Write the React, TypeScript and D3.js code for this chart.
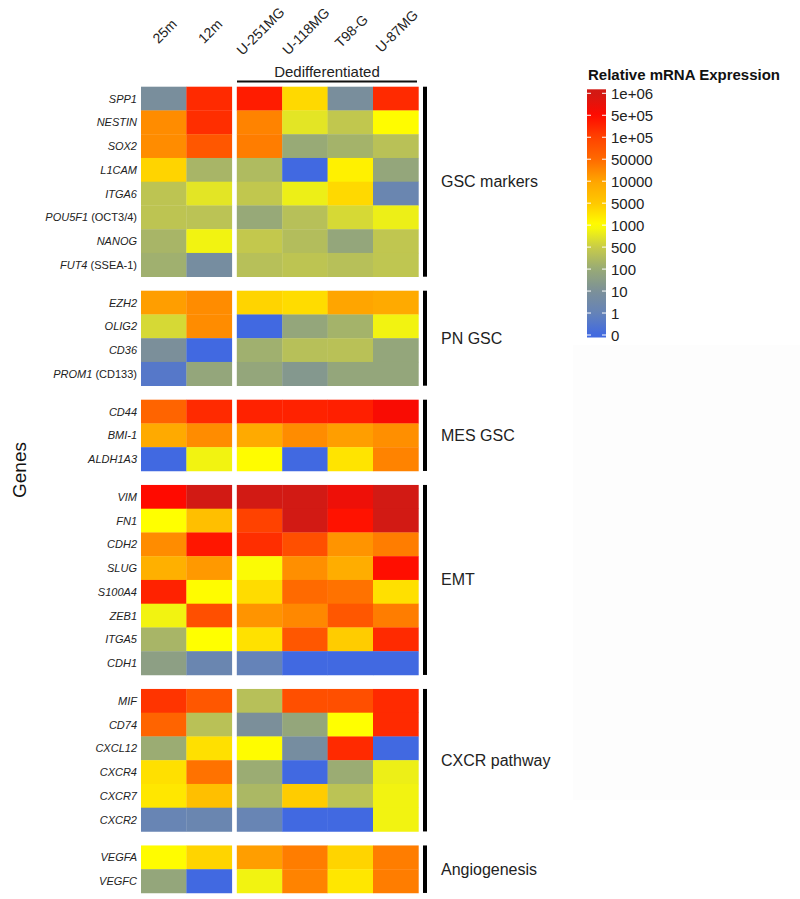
import React from 'react';
import * as d3 from 'd3';

const columns = ["25m", "12m", "U-251MG", "U-118MG", "T98-G", "U-87MG"];
const groupNames = ["GSC markers", "PN GSC", "MES GSC", "EMT", "CXCR pathway", "Angiogenesis"];
const groupSizes = [8, 4, 3, 8, 6, 2];
const genes = [
  "SPP1", "NESTIN", "SOX2", "L1CAM", "ITGA6", "POU5F1", "NANOG", "FUT4",
  "EZH2", "OLIG2", "CD36", "PROM1",
  "CD44", "BMI-1", "ALDH1A3",
  "VIM", "FN1", "CDH2", "SLUG", "S100A4", "ZEB1", "ITGA5", "CDH1",
  "MIF", "CD74", "CXCL12", "CXCR4", "CXCR7", "CXCR2",
  "VEGFA", "VEGFC",
];
const geneAliases = [
  "", "", "", "", "", "(OCT3/4)", "", "(SSEA-1)",
  "", "", "", "(CD133)",
  "", "", "",
  "", "", "", "", "", "", "", "",
  "", "", "", "", "", "",
  "", "",
];
// rows follow genes, columns follow columns
const expression = [
  [8, 2e5, 3e5, 3000, 8, 2e5],
  [2e4, 1.8e5, 2.5e4, 700, 400, 1100],
  [2e4, 7e4, 3e4, 100, 150, 300],
  [3500, 170, 220, 0, 1500, 70],
  [350, 700, 400, 800, 3000, 2],
  [350, 320, 90, 280, 600, 800],
  [170, 850, 420, 250, 70, 380],
  [130, 6, 280, 350, 280, 370],
  [1.2e4, 2e4, 3500, 2800, 1e4, 9000],
  [600, 2e4, 0, 70, 150, 850],
  [9, 0, 130, 280, 300, 70],
  [0.5, 70, 70, 20, 70, 70],
  [5.5e4, 2e5, 2.5e5, 2.5e5, 2.7e5, 5.5e5],
  [9000, 2e4, 9000, 2e4, 1.2e4, 1.8e4],
  [0, 850, 1100, 0, 2200, 2.5e4],
  [5e5, 1e6, 1e6, 1e6, 6.5e5, 1e6],
  [1000, 6000, 1e5, 1e6, 4e5, 1e6],
  [2e4, 3.5e5, 1.8e5, 8e4, 1.6e4, 3e4],
  [8000, 1.4e4, 950, 1.8e4, 8500, 4.5e5],
  [2.5e5, 1100, 2800, 5e4, 4e4, 2500],
  [850, 8e4, 1.6e4, 2.2e4, 7e4, 3e4],
  [170, 1000, 2400, 7e4, 4500, 2e5],
  [40, 2, 1, 0, 0, 0],
  [1.5e5, 7e4, 280, 8e4, 8e4, 2e5],
  [5.5e4, 300, 9, 70, 1000, 2e5],
  [110, 2500, 1100, 6, 2e5, 0],
  [2500, 4e4, 110, 0, 110, 800],
  [2000, 6000, 190, 4500, 320, 850],
  [1.5, 2, 1.5, 0, 0, 850],
  [1100, 3500, 1.2e4, 3e4, 3500, 3e4],
  [70, 0, 850, 2.5e4, 2000, 3e4],
];

const legendTickValues = [0, 1, 10, 100, 500, 1000, 5000, 10000, 50000, 1e5, 5e5, 1e6];
const legendTickLabels = ["0", "1", "10", "100", "500", "1000", "5000", "10000", "50000", "1e+05", "5e+05", "1e+06"];
const legendColors = [
  "#4169E1", "#6583B8", "#7C9098", "#98AA76", "#C8CC48", "#FFFF00",
  "#FFC800", "#FFA500", "#FF6A00", "#FF4200", "#FF0A00", "#D21A14",
];

const FONT = "'Liberation Sans', Arial, Helvetica, sans-serif";

export default function App() {
  const W = 800, H = 899;
  const rowH = 23.75, gap = 14, top0 = 86.7;

  const posScale = d3.scaleLinear()
    .domain(legendTickValues.map(v => Math.log10(v + 1)))
    .range(d3.range(legendTickValues.length))
    .clamp(true);
  const colorScale = d3.scaleLinear<string>()
    .domain(d3.range(legendColors.length))
    .range(legendColors)
    .interpolate(d3.interpolateRgb)
    .clamp(true);
  const cellColor = (v: number) => colorScale(posScale(Math.log10(v + 1)));

  const xBand = d3.scaleBand<string>().domain(columns).range([141, 141 + 6 * 45.4]).padding(0);
  const colX = (c: string, i: number) => (xBand(c) as number) + (i >= 2 ? 5 : 0);
  const cw = xBand.bandwidth();

  // row positions
  const rowTop: number[] = [];
  const groupTop: number[] = [];
  const groupBottom: number[] = [];
  let y = top0;
  groupSizes.forEach((n) => {
    groupTop.push(y);
    for (let k = 0; k < n; k++) { rowTop.push(y); y += rowH; }
    groupBottom.push(y);
    y += gap;
  });

  const legendY = d3.scaleLinear().domain([0, legendTickValues.length - 1]).range([335, 93.3]);
  const barTop = 89.3, barBot = 337.5, barX = 587, barW = 19;
  const gradStops = d3.range(0, 1.0001, 0.02).map(t => {
    const yy = barTop + t * (barBot - barTop);
    const p = legendY.invert(yy);
    return { offset: t, color: colorScale(p) };
  });

  return (
    <svg width={W} height={H} style={{ position: 'absolute', left: 0, top: 0, display: 'block', background: '#fff' }} fontFamily={FONT}>
      <defs>
        <linearGradient id="lg" x1="0" y1={barTop} x2="0" y2={barBot} gradientUnits="userSpaceOnUse">
          {gradStops.map((s, i) => <stop key={i} offset={s.offset} stopColor={s.color} />)}
        </linearGradient>
      </defs>
      <rect x={0} y={0} width={W} height={H} fill="#fff" />
      <rect x={573} y={345} width={227} height={455} fill="#fdfdfd" />

      {/* column labels */}
      {columns.map((c, i) => (
        <text key={c} transform={`translate(${colX(c, i) + cw / 2 + 1},${31}) rotate(-45)`}
          textAnchor="middle" dominantBaseline="central" fontSize={14} fill="#222">{c}</text>
      ))}

      {/* Dedifferentiated */}
      <text x={327} y={77} textAnchor="middle" fontSize={15} fill="#222">Dedifferentiated</text>
      <line x1={237} x2={417} y1={81.5} y2={81.5} stroke="#111" strokeWidth={2} />

      {/* cells */}
      {expression.map((row, r) => row.map((v, i) => (
        <rect key={`${r}-${i}`} x={colX(columns[i], i)} y={rowTop[r]} width={cw + 0.3} height={rowH + 0.3} fill={cellColor(v)} />
      )))}

      {/* gene labels */}
      {genes.map((g, r) => (
        <text key={g} x={137} y={rowTop[r] + rowH / 2} textAnchor="end" dominantBaseline="central" fontSize={11} fill="#222">
          <tspan fontStyle="italic">{g}</tspan>
          {geneAliases[r] ? <tspan>{" " + geneAliases[r]}</tspan> : null}
        </text>
      ))}

      {/* group bars and labels */}
      {groupNames.map((n, k) => (
        <g key={n}>
          <rect x={423} y={groupTop[k]} width={4} height={groupBottom[k] - groupTop[k]} fill="#000" />
          <text x={441} y={(groupTop[k] + groupBottom[k]) / 2} dominantBaseline="central" fontSize={16} fill="#222">{n}</text>
        </g>
      ))}

      {/* Genes axis title */}
      <text transform="translate(26,470) rotate(-90)" textAnchor="middle" fontSize={19} fill="#111">Genes</text>

      {/* legend */}
      <text x={588} y={80} fontSize={15} fontWeight="bold" fill="#111">Relative mRNA Expression</text>
      <rect x={barX} y={barTop} width={barW} height={barBot - barTop} fill="url(#lg)" />
      {legendTickValues.map((v, i) => (
        <g key={v}>
          <line x1={barX} x2={barX + 4} y1={legendY(i)} y2={legendY(i)} stroke="#fff" strokeWidth={1} />
          <line x1={barX + barW - 4} x2={barX + barW} y1={legendY(i)} y2={legendY(i)} stroke="#fff" strokeWidth={1} />
          <text x={611} y={legendY(i)} dominantBaseline="central" fontSize={15} fill="#222">{legendTickLabels[i]}</text>
        </g>
      ))}
    </svg>
  );
}
